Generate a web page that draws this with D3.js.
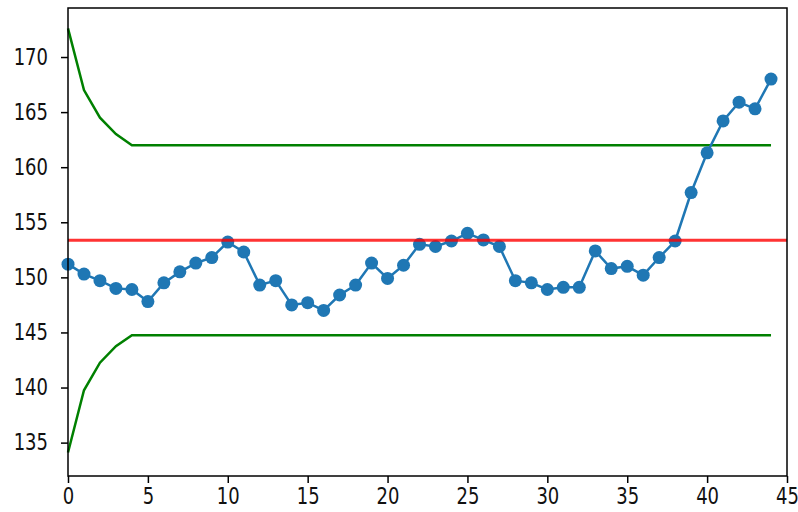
<!DOCTYPE html>
<html>
<head>
<meta charset="utf-8">
<script src="https://cdn.jsdelivr.net/npm/d3@7"></script>
<style>
  body { margin: 0; background: #fff; }
  svg text { font-family: "DejaVu Sans", sans-serif; }
</style>
</head>
<body>
<div id="chart"></div>
<script>
// sample index and measured values
var xs = d3.range(0, 45);
var values = [151.2, 150.3, 149.7, 149.0, 148.9, 147.8, 149.5, 150.5, 151.3, 151.8,
              153.2, 152.3, 149.3, 149.7, 147.5, 147.7, 147.0, 148.4, 149.3, 151.3,
              149.9, 151.1, 153.0, 152.8, 153.3, 154.0, 153.4, 152.8, 149.7, 149.5,
              148.9, 149.1, 149.1, 152.4, 150.8, 151.0, 150.2, 151.8, 153.3, 157.7,
              161.3, 164.2, 165.9, 165.3, 168.0];
var center = 153.37;
// control limits, first few narrow down then stay flat
var upperStart = [172.6, 167.0, 164.5, 163.0];
var lowerStart = [134.1, 139.75, 142.25, 143.75];
var upperFlat = 162.0;
var lowerFlat = 144.75;
var xTicks = [0, 5, 10, 15, 20, 25, 30, 35, 40, 45];
var yTicks = [135, 140, 145, 150, 155, 160, 165, 170];

var W = 798, H = 512;
var margin = { left: 68, right: 11, top: 8, bottom: 36 };
var width = W - margin.left - margin.right,
    height = H - margin.top - margin.bottom;

var upper = xs.map(function (i) { return i < upperStart.length ? upperStart[i] : upperFlat; });
var lower = xs.map(function (i) { return i < lowerStart.length ? lowerStart[i] : lowerFlat; });

var svg = d3.select("#chart").append("svg")
    .attr("width", W).attr("height", H)
  .append("g")
    .attr("transform", "translate(" + margin.left + "," + margin.top + ")");

var x = d3.scaleLinear().domain([0, 45]).range([0, width]);
var y = d3.scaleLinear().domain([131.97, 174.45]).range([height, 0]);

var line = d3.line()
    .x(function (d, i) { return x(xs[i]); })
    .y(function (d) { return y(d); });

// control limits
svg.append("path").datum(upper)
    .attr("fill", "none").attr("stroke", "#008000").attr("stroke-width", 2.5)
    .attr("d", line);
svg.append("path").datum(lower)
    .attr("fill", "none").attr("stroke", "#008000").attr("stroke-width", 2.5)
    .attr("d", line);

// data series
svg.append("path").datum(values)
    .attr("fill", "none").attr("stroke", "#1f77b4").attr("stroke-width", 2.5)
    .attr("d", line);
svg.selectAll("circle").data(values).enter().append("circle")
    .attr("cx", function (d, i) { return x(xs[i]); })
    .attr("cy", function (d) { return y(d); })
    .attr("r", 6.5)
    .attr("fill", "#1f77b4");

// center line across the whole axis
svg.append("line")
    .attr("x1", 0).attr("x2", width)
    .attr("y1", y(center)).attr("y2", y(center))
    .attr("stroke", "#ff0000").attr("stroke-opacity", 0.8).attr("stroke-width", 3);

// axes (the source image is stretched vertically, so labels are too)
var xAxis = svg.append("g")
    .attr("transform", "translate(0," + height + ")")
    .call(d3.axisBottom(x).tickValues(xTicks).tickSize(7).tickPadding(3));
var yAxis = svg.append("g")
    .call(d3.axisLeft(y).tickValues(yTicks).tickSize(7).tickPadding(13));
[xAxis, yAxis].forEach(function (g) {
  g.select(".domain").remove();
  g.selectAll(".tick line").attr("stroke", "#000").attr("stroke-width", 1.5);
  g.selectAll(".tick text")
    .attr("fill", "#111")
    .style("font-size", "18px")
    .attr("transform", "scale(1,1.25)");
});

// frame
svg.append("rect")
    .attr("width", width).attr("height", height)
    .attr("fill", "none").attr("stroke", "#000").attr("stroke-width", 1.5);
</script>
</body>
</html>
